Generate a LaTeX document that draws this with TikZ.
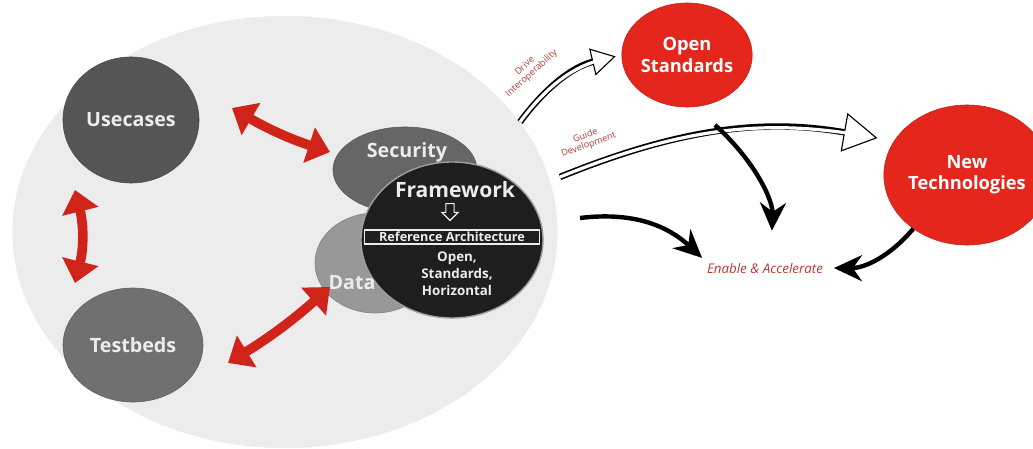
\documentclass[tikz,border=0pt]{standalone}
\usepackage{fontspec}
\setmainfont{Open Sans}
\usepackage{tikz}
\usetikzlibrary{calc, arrows.meta, shapes.geometric, shapes.arrows}
\definecolor{bggrey}{RGB}{236,236,236}
\definecolor{ucgrey}{RGB}{85,85,85}
\definecolor{tbgrey}{RGB}{112,112,112}
\definecolor{secgrey}{RGB}{102,102,102}
\definecolor{datagrey}{RGB}{152,152,152}
\definecolor{fwblack}{RGB}{30,30,30}
\definecolor{softwhite}{RGB}{236,236,236}
\definecolor{brightred}{RGB}{228,38,28}
\definecolor{arrowred}{RGB}{208,36,26}
\definecolor{labelred}{RGB}{180,56,50}

\begin{document}
\begin{tikzpicture}[x=0.025cm, y=0.025cm,
  every node/.style={font=\fontsize{13}{15}\selectfont},
  blob/.style={ellipse, inner sep=0pt, draw=#1!85!black, fill=#1},
  blobtxt/.style={text=softwhite, font=\bfseries\fontsize{14}{16}\selectfont},
  fwtxt/.style={text=softwhite, align=center, font=\bfseries\fontsize{9.5}{12}\selectfont},
  hot/.style={ellipse, inner sep=0pt, fill=brightred, draw=brightred!85!black, text=white, align=center, font=\bfseries\fontsize{13}{15}\selectfont},
  redarr/.style={arrowred, line width=0.24cm, {Triangle[length=0.55cm, width=0.9cm]}-{Triangle[length=0.55cm, width=0.9cm]}},
  blkarr/.style={black, line width=0.11cm, -{Stealth[length=0.7cm, width=0.65cm]}},
  hollow/.style={black, line width=0.16cm, -{Triangle[open, fill=white, length=#1, width=1.15*#1, line width=0.8pt]},
    postaction={draw=white, line width=0.08cm, -, shorten >=#1-0.08cm}},
  tiny/.style={text=labelred, align=center, font=\fontsize{6.5}{7}\selectfont}
]
\useasboundingbox (0,0) rectangle (1033,448);
\clip (0,0) rectangle (1033,448);
\node[ellipse, fill=bggrey, inner sep=0pt, minimum width=13.625cm, minimum height=10.8cm] (disc) at (285,216) {};

\node[blob=ucgrey, minimum width=3.4cm, minimum height=3.15cm, blobtxt] (uc) at (131,328) {Usecases};
\node[blob=tbgrey, minimum width=3.5cm, minimum height=2.85cm, blobtxt] (tb) at (133,103) {Testbeds};
\node[blob=secgrey, minimum width=3.6cm, minimum height=2.15cm] (sec) at (405,278) {};
\node[blob=datagrey, minimum width=3cm, minimum height=2.5cm] (data) at (375,185) {};
\node[blob=fwblack, draw=gray!75, line width=1pt, minimum width=4.55cm, minimum height=3.9cm] (fw) at (452,208) {};
\node[blobtxt] (secT) at (407,296) {Security};
\node[blobtxt] (dataT) at (352,165) {Data};
\node[blobtxt, font=\bfseries\fontsize{15}{17}\selectfont] (fwT) at (455,258) {Framework};
\node[single arrow, draw=softwhite, line width=0.8pt, rotate=-90, inner sep=0.09cm, minimum height=0.42cm,
      single arrow head extend=0.1cm] (dn) at (450,238) {};
\node[fwtxt, draw=softwhite, line width=0.8pt, inner sep=1.5pt, minimum width=4.375cm, font=\bfseries\fontsize{9}{11}\selectfont] (ra) at (452,211) {Reference Architecture};
\node[fwtxt] (ost) at (457,174) {Open,\\Standards,\\Horizontal};

\coordinate (ucE) at (232,340);
\coordinate (secW) at (330,296);
\coordinate (ucS) at (75,258);
\coordinate (tbN) at (75,165);
\coordinate (tbE) at (228,85);
\coordinate (dataW) at (330,161);
\draw[redarr] (ucE) to[bend right=6] (secW);
\draw[redarr] (ucS) to[bend left=14] (tbN);
\draw[redarr] (tbE) to[bend right=5] (dataW);

\node[hot, minimum width=3.125cm, minimum height=2.6cm] (os) at (687,393) {Open\\Standards};
\node[hot, minimum width=3.6cm, minimum height=3.5cm] (nt) at (967,273) {New\\Technologies};
\node[text=labelred, font=\itshape\fontsize{9.5}{11}\selectfont] (ea) at (765,180) {Enable \& Accelerate};

\coordinate (driveTail) at (520,326);
\coordinate (guideTail) at (560,271);
\coordinate (leftTail) at (580,230);
\coordinate (midTail) at (715,323);
\draw[hollow=0.6cm, shorten >=0.15cm] (driveTail) to[bend left=20]
  node[tiny, pos=0.32, sloped, above=8pt] {Drive\\Interoperability} (os.west);
\draw[hollow=0.85cm, shorten >=0.42cm] (guideTail) to[bend left=16]
  node[tiny, pos=0.1, sloped, above=5pt] {Guide\\Development} (nt.155);
\draw[blkarr] (leftTail) to[bend left=25] (ea.north west);
\draw[blkarr, shorten >=0.68cm] (midTail) to[bend left=25] (ea.60);
\draw[blkarr, shorten >=0.15cm] (nt.225) to[bend left=25] (ea.east);
\end{tikzpicture}
\end{document}
